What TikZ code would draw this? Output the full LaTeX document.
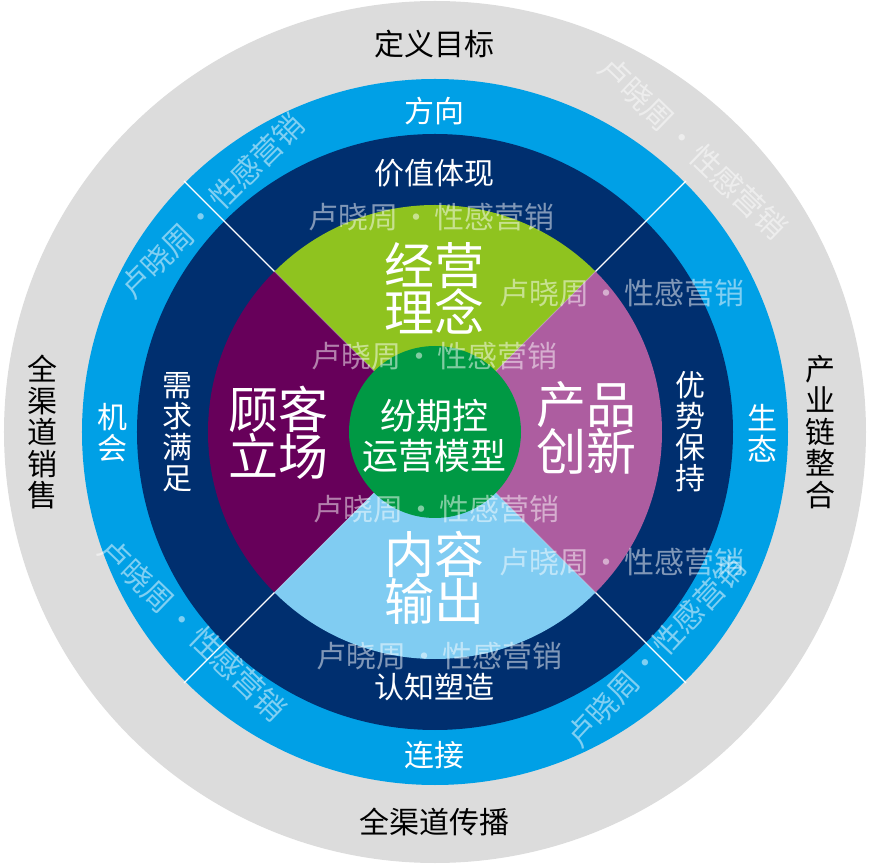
\documentclass[tikz,border=0pt]{standalone}
\usepackage{fontspec}
\newfontfamily\cjk{Noto Sans CJK SC}
\definecolor{cgray}{HTML}{DCDCDC}
\definecolor{cblue}{HTML}{00A0E6}
\definecolor{cnavy}{HTML}{002F6F}
\definecolor{cyg}{HTML}{8FC31F}
\definecolor{cpink}{HTML}{AD5DA0}
\definecolor{clblue}{HTML}{80CCF2}
\definecolor{cpurple}{HTML}{67005A}
\definecolor{cgreen}{HTML}{009944}
\newcommand\wmtxt{卢晓周\hspace{3pt}·\hspace{3pt}性感营销}
\begin{document}
\begin{tikzpicture}[x=1pt,y=1pt,
  lbl/.style={inner sep=0pt, align=center},
  outerlbl/.style={lbl, text=black, font=\cjk\fontsize{30}{31.5}\selectfont},
  ringlbl/.style={lbl, text=white, font=\cjk\fontsize{30}{31}\selectfont},
  biglbl/.style={lbl, text=white, font=\cjk\fontsize{50}{47}\selectfont},
  centerlbl/.style={lbl, text=white, font=\cjk\fontsize{36}{40}\selectfont},
  wm/.style={inner sep=0pt, text=white, text opacity=0.5, font=\cjk\fontsize{30}{30}\selectfont},
  divline/.style={white, line width=1.3pt},
  secline/.style={white, opacity=0.35, line width=1pt}]
\useasboundingbox (-435,-432) rectangle (435,432);
% rings
\fill[cgray] (0,0) circle[radius=431pt];
\fill[cblue] (0,0) circle[radius=353pt];
\fill[cnavy] (0,0) circle[radius=298pt];
% quadrants
\foreach \c/\a in {cyg/45, cpurple/135, clblue/225, cpink/315}
  \fill[\c] (0,0) -- (\a:227) arc[start angle=\a, delta angle=90, radius=227pt] -- cycle;
\foreach \a in {45,135,225,315} {
  \draw[divline] (\a:227) -- (\a:355);
  \draw[secline] (\a:86) -- (\a:227);
}
\fill[cgreen] (0,0) circle[radius=86pt];
% watermarks
\node[wm] (w1) at (-3,215) {\wmtxt};
\node[wm] (w2) at (187,139) {\wmtxt};
\node[wm] (w3) at (0,76) {\wmtxt};
\node[wm] (w4) at (2,-77) {\wmtxt};
\node[wm] (w5) at (187,-130) {\wmtxt};
\node[wm] (w6) at (5,-224) {\wmtxt};
\node[wm, rotate=45] (w7) at (-223,226) {\wmtxt};
\node[wm, rotate=-44] (w8) at (258,284) {\wmtxt};
\node[wm, rotate=-44] (w9) at (-242,-198) {\wmtxt};
\node[wm, rotate=47] (w10) at (221,-220) {\wmtxt};
% outer labels
\node[outerlbl] (o1) at (0,388) {定义目标};
\node[outerlbl] (o2) at (0,-390) {全渠道传播};
\node[outerlbl] (o3) at (-392,0) {全\\渠\\道\\销\\售};
\node[outerlbl] (o4) at (385,0) {产\\业\\链\\整\\合};
% blue ring labels
\node[ringlbl] (b1) at (0,321) {方向};
\node[ringlbl] (b2) at (0,-323) {连接};
\node[ringlbl] (b3) at (-322,-1) {机\\会};
\node[ringlbl] (b4) at (327,-1) {生\\态};
% navy ring labels
\node[ringlbl] (n1) at (0,259) {价值体现};
\node[ringlbl] (n2) at (0,-255) {认知塑造};
\node[ringlbl] (n3) at (-257,0) {需\\求\\满\\足};
\node[ringlbl] (n4) at (255,0) {优\\势\\保\\持};
% quadrant labels
\node[biglbl] (q1) at (0,144) {经营\\理念};
\node[biglbl] (q2) at (-156,-1) {顾客\\立场};
\node[biglbl] (q3) at (151,4) {产品\\创新};
\node[biglbl] (q4) at (0,-146) {内容\\输出};
% center
\node[centerlbl] (c) at (0,-4) {纷期控\\运营模型};
\end{tikzpicture}
\end{document}
